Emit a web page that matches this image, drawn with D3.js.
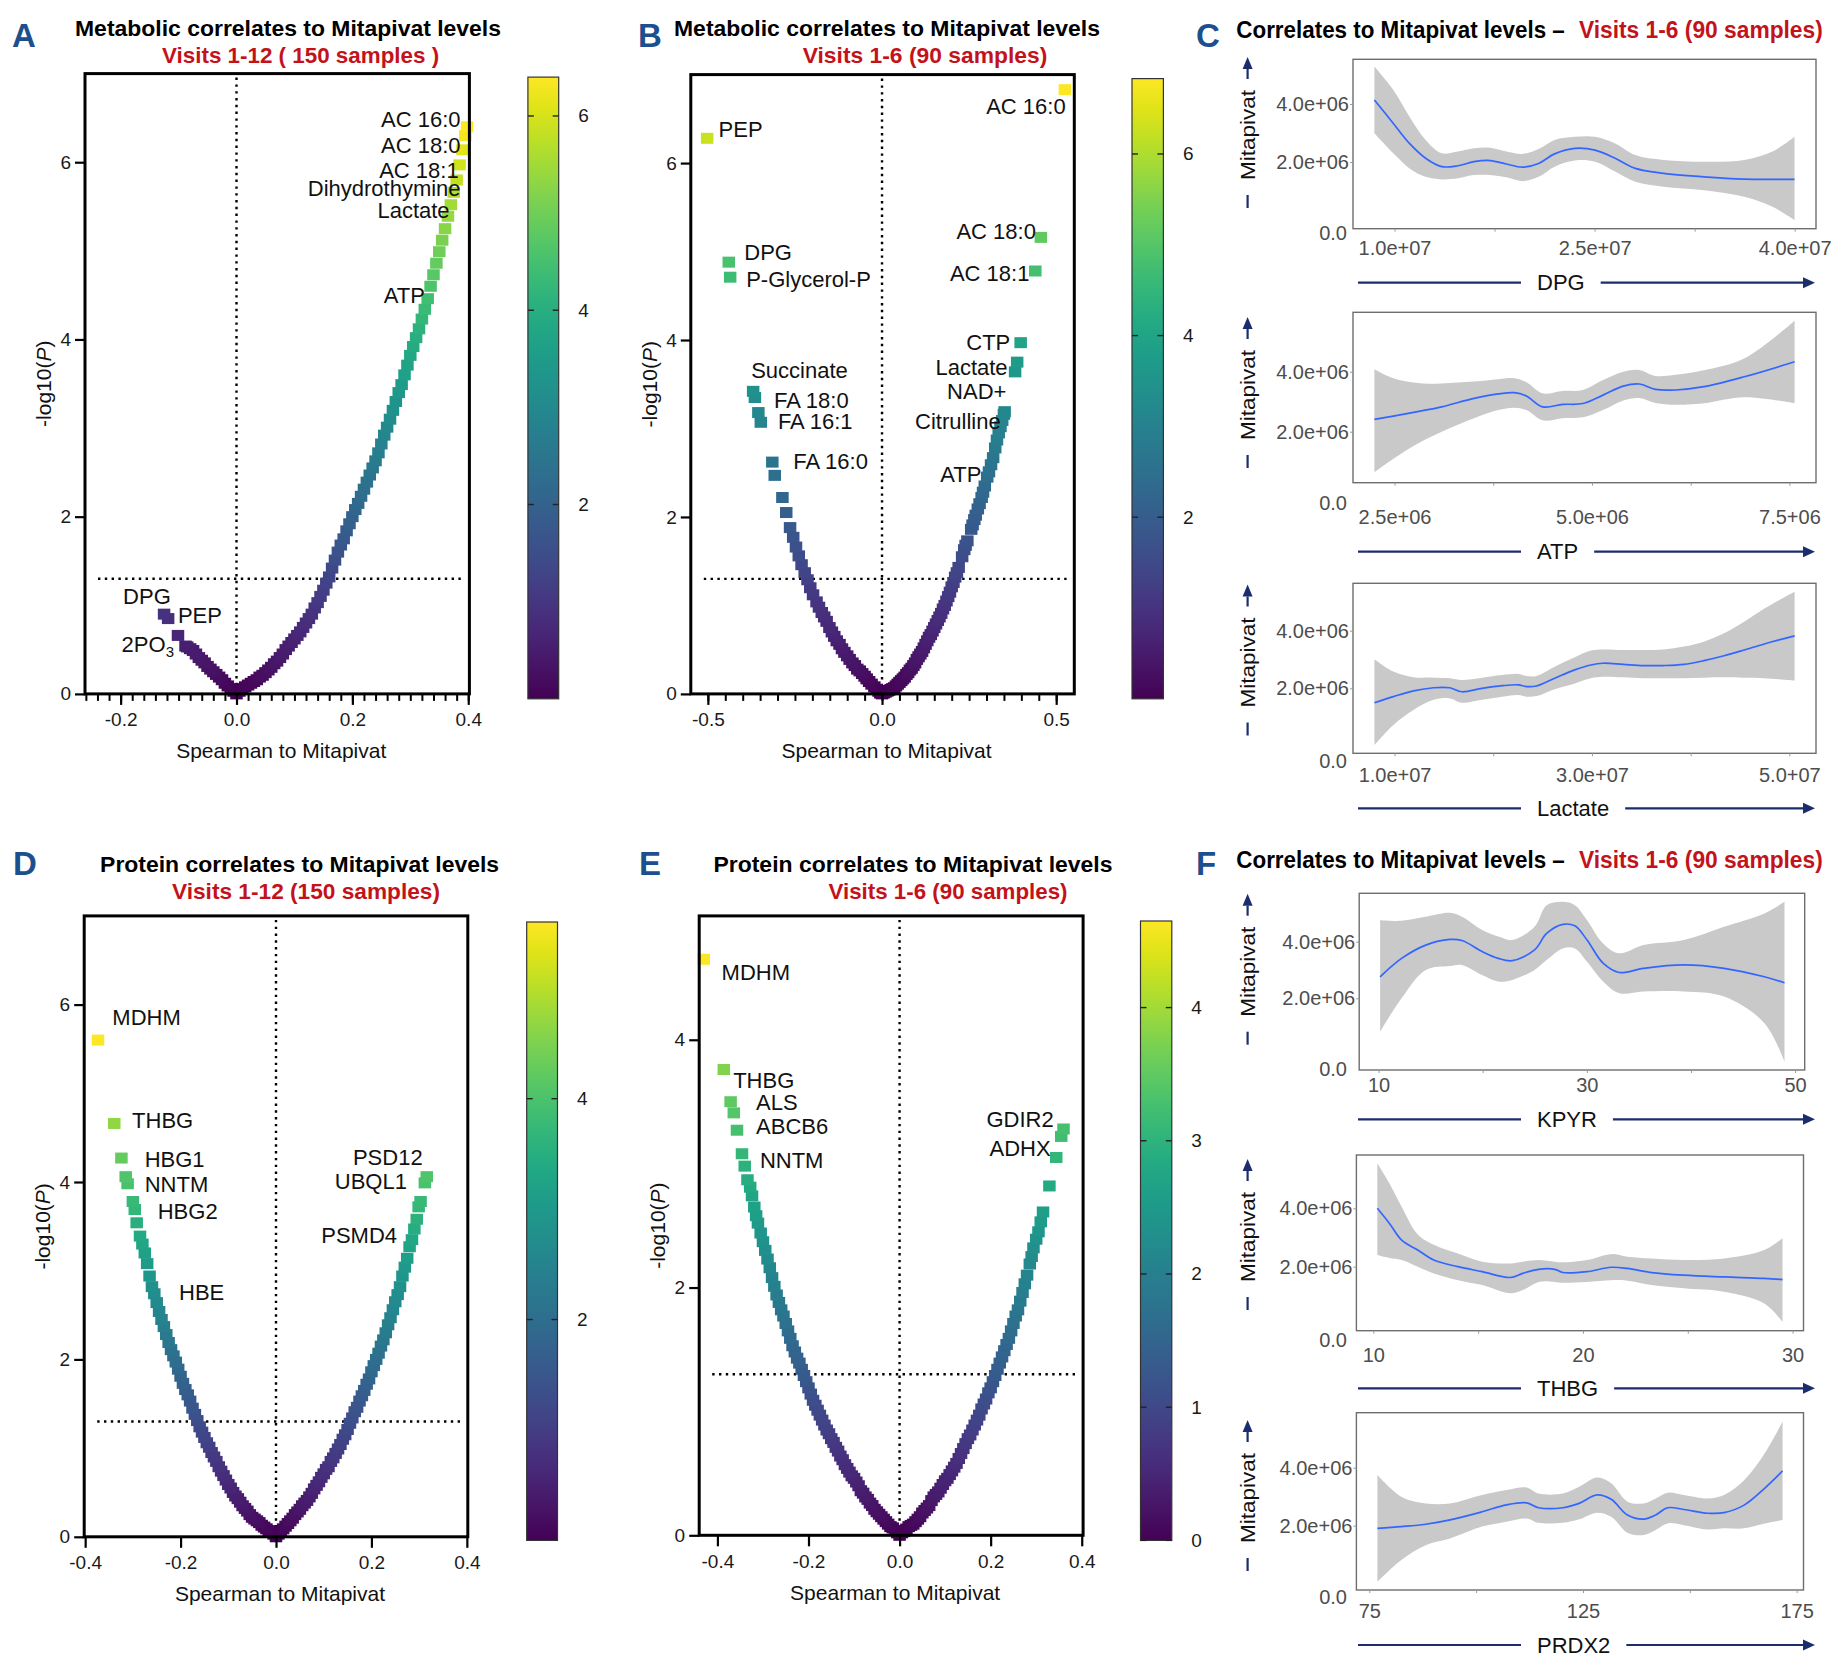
<!DOCTYPE html>
<html><head><meta charset="utf-8">
<script src="https://cdn.jsdelivr.net/npm/d3@7/dist/d3.min.js"></script>
<style>html,body{margin:0;padding:0;background:#fff;}svg{display:block;}</style>
</head><body>
<svg id="fig" width="1832" height="1656" xmlns="http://www.w3.org/2000/svg"></svg>
<script>
// ===================== DATA =====================
// Volcano points: [Spearman rho, -log10(P)]
const metabVisits12 = [[-0.125,0.90],[-0.118,0.85],[-0.101,0.66],[-0.088,0.54],[-0.085,0.53],[-0.080,0.51],[-0.075,0.49],[-0.070,0.45],[-0.065,0.41],[-0.060,0.38],[-0.055,0.35],[-0.050,0.31],[-0.045,0.28],[-0.040,0.25],[-0.035,0.22],[-0.030,0.19],[-0.025,0.16],[-0.020,0.12],[-0.015,0.09],[-0.010,0.06],[-0.005,0.03],
[0.000,0.00],[0.005,0.03],[0.010,0.06],[0.015,0.08],[0.020,0.10],[0.025,0.12],[0.030,0.14],[0.035,0.16],[0.040,0.19],[0.045,0.21],[0.050,0.24],[0.055,0.27],[0.060,0.30],[0.065,0.34],[0.070,0.37],[0.075,0.41],[0.080,0.45],[0.085,0.50],[0.090,0.54],[0.095,0.58],[0.100,0.62],[0.105,0.66],[0.110,0.70],[0.115,0.75],[0.120,0.80],[0.125,0.85],[0.130,0.90],[0.135,0.97],[0.140,1.03],[0.145,1.10],[0.150,1.17],[0.155,1.25],[0.160,1.32],[0.165,1.42],[0.170,1.51],[0.175,1.60],[0.180,1.68],[0.185,1.75],[0.190,1.84],[0.195,1.92],[0.200,2.00],[0.205,2.08],[0.210,2.15],[0.215,2.23],[0.220,2.31],[0.225,2.39],[0.230,2.47],[0.235,2.55],[0.240,2.63],[0.245,2.72],[0.250,2.82],[0.255,2.92],[0.260,3.01],[0.265,3.10],[0.270,3.20],[0.275,3.30],[0.280,3.40],[0.285,3.49],[0.290,3.60],[0.295,3.71],[0.300,3.82],[0.305,3.92],[0.310,4.02],[0.315,4.12],[0.320,4.23],[0.325,4.34],[0.330,4.46],[0.335,4.60],[0.340,4.73],[0.345,4.86],[0.350,4.99],[0.355,5.12],[0.360,5.25],[0.365,5.39],[0.370,5.52],[0.375,5.66],[0.380,5.80],[0.385,5.97],[0.390,6.14],[0.395,6.30],[0.398,6.40]];

const metabVisits6 = [[-0.370,3.42],[-0.365,3.35],[-0.355,3.18],[-0.348,3.07],[-0.315,2.62],[-0.308,2.47],[-0.286,2.22],[-0.275,2.05],[-0.264,1.88],[-0.255,1.77],[-0.247,1.66],[-0.239,1.56],[-0.231,1.46],[-0.222,1.37],[-0.214,1.29],[-0.206,1.20],[-0.198,1.12],[-0.188,1.04],[-0.181,0.98],[-0.173,0.92],[-0.166,0.87],[-0.159,0.82],[-0.151,0.75],[-0.144,0.70],[-0.137,0.65],[-0.130,0.60],[-0.122,0.56],[-0.115,0.51],[-0.108,0.47],[-0.100,0.43],[-0.093,0.39],[-0.085,0.35],[-0.078,0.32],[-0.071,0.28],[-0.064,0.26],[-0.057,0.23],[-0.050,0.20],[-0.044,0.17],[-0.037,0.14],[-0.030,0.11],[-0.022,0.08],[-0.015,0.05],[-0.010,0.03],[-0.005,0.01],
[-0.502,6.28],[-0.440,4.88],[-0.436,4.71],
[0.000,0.00],[0.005,0.01],[0.010,0.02],[0.015,0.03],[0.020,0.04],[0.025,0.05],[0.030,0.06],[0.035,0.07],[0.040,0.09],[0.045,0.11],[0.050,0.13],[0.055,0.15],[0.060,0.17],[0.065,0.19],[0.070,0.22],[0.075,0.24],[0.080,0.27],[0.085,0.29],[0.090,0.32],[0.095,0.35],[0.100,0.39],[0.105,0.42],[0.110,0.45],[0.115,0.48],[0.120,0.52],[0.125,0.56],[0.130,0.60],[0.135,0.64],[0.140,0.67],[0.145,0.71],[0.150,0.75],[0.155,0.79],[0.160,0.83],[0.165,0.87],[0.170,0.91],[0.175,0.96],[0.180,1.00],[0.185,1.05],[0.190,1.10],[0.195,1.15],[0.200,1.21],[0.205,1.26],[0.210,1.32],[0.215,1.37],[0.220,1.43],[0.230,1.55],[0.236,1.63],[0.240,1.68],[0.245,1.73],[0.256,1.86],[0.260,1.91],[0.265,1.97],[0.269,2.02],[0.275,2.09],[0.280,2.15],[0.286,2.22],[0.290,2.28],[0.295,2.35],[0.302,2.45],[0.307,2.51],[0.313,2.59],[0.319,2.67],[0.325,2.78],[0.330,2.87],[0.335,2.95],[0.340,3.02],[0.345,3.09],[0.350,3.16],[0.352,3.19],[0.382,3.64],[0.388,3.75],[0.398,3.97],[0.440,4.78],[0.456,5.16],[0.525,6.83]];

const protVisits12 = [[-0.373,5.60],[-0.339,4.66],[-0.324,4.27],[-0.315,4.06],[-0.311,3.98],[-0.300,3.78],[-0.296,3.69],[-0.292,3.54],[-0.285,3.39],[-0.280,3.30],[-0.275,3.20],[-0.270,3.08],[-0.265,2.94],[-0.260,2.82],[-0.255,2.74],[-0.250,2.64],[-0.245,2.54],[-0.240,2.45],[-0.235,2.37],[-0.230,2.28],[-0.225,2.19],[-0.220,2.11],[-0.215,2.04],[-0.210,1.97],[-0.205,1.89],[-0.200,1.81],[-0.195,1.73],[-0.190,1.66],[-0.185,1.60],[-0.180,1.53],[-0.175,1.45],[-0.170,1.38],[-0.165,1.31],[-0.160,1.24],[-0.155,1.18],[-0.150,1.12],[-0.145,1.06],[-0.140,1.01],[-0.135,0.95],[-0.130,0.90],[-0.125,0.85],[-0.120,0.79],[-0.115,0.74],[-0.110,0.69],[-0.105,0.64],[-0.100,0.59],[-0.095,0.55],[-0.090,0.50],[-0.085,0.46],[-0.080,0.43],[-0.075,0.39],[-0.070,0.35],[-0.065,0.32],[-0.060,0.29],[-0.055,0.25],[-0.050,0.22],[-0.045,0.20],[-0.040,0.18],[-0.035,0.16],[-0.030,0.13],[-0.025,0.11],[-0.020,0.09],[-0.015,0.07],[-0.010,0.05],[-0.005,0.03],
[0.000,0.00],[0.005,0.03],[0.010,0.06],[0.015,0.09],[0.020,0.12],[0.025,0.15],[0.030,0.18],[0.035,0.21],[0.040,0.25],[0.045,0.28],[0.050,0.31],[0.055,0.35],[0.060,0.38],[0.065,0.41],[0.070,0.45],[0.075,0.49],[0.080,0.54],[0.085,0.58],[0.090,0.62],[0.095,0.67],[0.100,0.71],[0.105,0.76],[0.110,0.79],[0.115,0.85],[0.120,0.89],[0.125,0.94],[0.130,0.99],[0.135,1.04],[0.140,1.10],[0.145,1.15],[0.150,1.21],[0.155,1.28],[0.160,1.34],[0.165,1.41],[0.170,1.46],[0.175,1.53],[0.180,1.59],[0.185,1.65],[0.190,1.72],[0.195,1.78],[0.200,1.86],[0.205,1.93],[0.210,2.00],[0.215,2.07],[0.220,2.15],[0.225,2.22],[0.230,2.30],[0.235,2.39],[0.240,2.47],[0.245,2.56],[0.250,2.65],[0.255,2.73],[0.260,2.82],[0.265,2.94],[0.270,3.04],[0.275,3.14],[0.280,3.27],[0.285,3.35],[0.290,3.47],[0.295,3.58],[0.299,3.72],[0.303,3.78],[0.312,3.99],[0.316,4.06]];

const protVisits6 = [[-0.430,4.65],[-0.386,3.76],[-0.371,3.50],[-0.364,3.41],[-0.357,3.27],[-0.346,3.08],[-0.340,2.98],[-0.334,2.87],[-0.328,2.81],[-0.324,2.74],[-0.319,2.65],[-0.315,2.58],[-0.311,2.52],[-0.305,2.44],[-0.300,2.37],[-0.295,2.30],[-0.290,2.23],[-0.285,2.16],[-0.280,2.08],[-0.275,2.01],[-0.270,1.94],[-0.265,1.88],[-0.260,1.82],[-0.255,1.77],[-0.250,1.71],[-0.245,1.65],[-0.240,1.59],[-0.235,1.53],[-0.230,1.48],[-0.225,1.43],[-0.220,1.39],[-0.215,1.34],[-0.210,1.29],[-0.205,1.24],[-0.200,1.19],[-0.195,1.14],[-0.190,1.09],[-0.185,1.05],[-0.180,1.01],[-0.175,0.97],[-0.170,0.93],[-0.165,0.89],[-0.160,0.85],[-0.155,0.82],[-0.150,0.78],[-0.145,0.75],[-0.140,0.71],[-0.135,0.68],[-0.130,0.64],[-0.125,0.61],[-0.120,0.57],[-0.115,0.54],[-0.110,0.51],[-0.105,0.48],[-0.100,0.46],[-0.095,0.43],[-0.090,0.40],[-0.085,0.36],[-0.080,0.34],[-0.075,0.31],[-0.070,0.29],[-0.065,0.26],[-0.060,0.24],[-0.055,0.21],[-0.050,0.19],[-0.045,0.17],[-0.040,0.15],[-0.035,0.13],[-0.030,0.11],[-0.025,0.09],[-0.020,0.07],[-0.015,0.06],[-0.010,0.04],[-0.005,0.02],
[0.000,0.00],[0.005,0.02],[0.010,0.03],[0.015,0.05],[0.020,0.07],[0.025,0.08],[0.030,0.09],[0.035,0.11],[0.040,0.13],[0.045,0.15],[0.050,0.18],[0.055,0.20],[0.060,0.22],[0.065,0.24],[0.070,0.28],[0.075,0.31],[0.080,0.33],[0.085,0.35],[0.090,0.38],[0.095,0.41],[0.100,0.44],[0.105,0.46],[0.110,0.49],[0.115,0.52],[0.120,0.55],[0.125,0.58],[0.130,0.62],[0.135,0.66],[0.140,0.70],[0.145,0.74],[0.150,0.78],[0.155,0.81],[0.160,0.85],[0.165,0.89],[0.170,0.93],[0.175,0.97],[0.180,1.02],[0.185,1.06],[0.190,1.10],[0.195,1.15],[0.200,1.19],[0.205,1.24],[0.210,1.29],[0.215,1.34],[0.220,1.39],[0.225,1.44],[0.230,1.49],[0.235,1.54],[0.240,1.59],[0.245,1.65],[0.250,1.71],[0.255,1.77],[0.260,1.82],[0.265,1.89],[0.270,1.96],[0.275,2.03],[0.280,2.10],[0.286,2.19],[0.290,2.25],[0.294,2.32],[0.300,2.39],[0.305,2.45],[0.310,2.53],[0.315,2.61],[0.329,2.82],[0.344,3.05],[0.355,3.22],[0.360,3.28]];

// Volcano annotations (text anchor position in data units)
const aLabelText = ["AC 16:0","AC 18:0","AC 18:1","Dihydrothymine","Lactate","ATP","DPG","PEP","2PO3"];
const aLabelRho  = [0.3868,0.3868,0.3835,0.3868,0.3678,0.3253,-0.1134,-0.1011,-0.1079];
const aLabelLogP = [6.484,6.193,5.906,5.699,5.457,4.491,1.095,0.881,0.562];
const aLabelAnchor = ["end","end","end","end","end","end","end","start","end"];

const bLabelText = ["AC 16:0","PEP","AC 18:0","AC 18:1","DPG","P-Glycerol-P","CTP","Lactate","NAD+","Citrulline","ATP","Succinate","FA 18:0","FA 16:1","FA 16:0"];
const bLabelRho  = [0.5273,-0.4693,0.4417,0.4231,-0.3955,-0.39,0.3682,0.3605,0.357,0.3407,0.2855,-0.3757,-0.31,-0.299,-0.2548];
const bLabelLogP = [6.634,6.382,5.229,4.751,4.988,4.685,3.976,3.694,3.413,3.076,2.475,3.656,3.318,3.076,2.626];
const bLabelAnchor = ["end","start","end","end","start","start","end","end","end","end","end","start","start","start","start"];

const dLabelText = ["MDHM","THBG","HBG1","NNTM","HBG2","HBE","PSD12","UBQL1","PSMD4"];
const dLabelRho  = [-0.343,-0.3016,-0.2752,-0.2752,-0.2479,-0.2033,0.3074,0.2744,0.2537];
const dLabelLogP = [5.851,4.698,4.249,3.977,3.672,2.749,4.277,4.007,3.401];
const dLabelAnchor = ["start","start","start","start","start","start","end","end","end"];

const eLabelText = ["MDHM","THBG","ALS","ABCB6","NNTM","GDIR2","ADHX"];
const eLabelRho  = [-0.3908,-0.3655,-0.315,-0.315,-0.3067,0.3385,0.3317];
const eLabelLogP = [4.546,3.671,3.493,3.30,3.027,3.357,3.122];
const eLabelAnchor = ["start","start","start","start","start","end","end"];

// Smooth fits (loess + CI).  x in axis units shown below, y in units of 1e6 (Mitapivat)
const dpgX   = [0.849,0.991,1.112,1.233,1.354,1.475,1.596,1.717,1.838,1.959,2.080,2.200,2.352,2.503,2.654,2.805,3.017,3.319,3.622,3.833,3.999]; // x1e7
const dpgFit = [4.14,3.33,2.64,2.13,1.84,1.87,2.01,2.05,1.93,1.82,1.95,2.28,2.47,2.41,2.13,1.78,1.61,1.49,1.41,1.40,1.40];
const dpgHi  = [5.29,4.48,3.56,2.76,2.30,2.36,2.47,2.49,2.36,2.28,2.45,2.76,2.87,2.87,2.64,2.24,2.07,2.01,2.07,2.36,2.87];
const dpgLo  = [2.99,2.30,1.78,1.49,1.40,1.44,1.55,1.55,1.47,1.34,1.49,1.84,2.05,2.01,1.67,1.32,1.15,1.03,0.80,0.46,0.00];

const atpX   = [2.245,2.485,2.791,3.098,3.506,3.813,4.017,4.170,4.374,4.630,4.885,5.140,5.396,5.600,5.804,6.060,6.417,6.928,7.566]; // x1e6
const atpFit = [2.41,2.52,2.67,2.83,3.11,3.26,3.30,3.19,2.83,2.91,2.94,3.22,3.52,3.59,3.41,3.39,3.50,3.83,4.33];
const atpHi  = [4.08,3.78,3.62,3.61,3.67,3.75,3.78,3.65,3.28,3.36,3.39,3.72,4.00,4.06,3.86,3.90,4.05,4.44,5.70];
const atpLo  = [0.65,1.10,1.60,2.00,2.45,2.72,2.80,2.72,2.38,2.45,2.48,2.72,3.04,3.12,2.96,2.90,2.95,3.15,2.95];

const lactX   = [0.796,0.988,1.192,1.396,1.560,1.682,1.887,2.091,2.254,2.336,2.438,2.622,2.826,2.990,3.112,3.317,3.521,3.725,3.930,4.134,4.338,4.542,4.747,5.053]; // x1e7
const lactFit = [1.50,1.71,1.91,2.02,2.02,1.88,2.00,2.09,2.12,2.06,2.08,2.35,2.64,2.81,2.87,2.83,2.79,2.79,2.83,2.96,3.13,3.33,3.54,3.82];
const lactHi  = [3.01,2.58,2.38,2.37,2.35,2.29,2.37,2.46,2.50,2.43,2.43,2.75,3.08,3.31,3.35,3.33,3.33,3.35,3.45,3.62,3.91,4.31,4.77,5.35];
const lactLo  = [0.03,0.73,1.25,1.60,1.65,1.50,1.60,1.71,1.77,1.71,1.73,1.97,2.17,2.35,2.40,2.38,2.35,2.35,2.35,2.37,2.38,2.37,2.35,2.27];

const kpyrX   = [10.15,12.21,14.53,16.85,18.01,19.95,21.50,22.85,24.98,26.14,27.69,28.85,30.02,31.56,33.11,35.44,39.31,43.18,47.05,48.98];
const kpyrFit = [2.76,3.41,3.88,4.08,4.04,3.65,3.41,3.33,3.71,4.29,4.61,4.56,4.06,3.24,2.91,3.06,3.18,3.06,2.76,2.55];
const kpyrHi  = [4.76,4.74,4.88,5.02,4.88,4.41,4.18,4.06,4.53,5.29,5.41,5.29,4.76,3.94,3.59,3.88,4.06,4.53,5.00,5.41];
const kpyrLo  = [0.82,2.00,3.00,3.14,3.18,2.82,2.59,2.65,3.00,3.35,3.76,3.76,3.29,2.59,2.18,2.24,2.24,2.06,1.12,-0.24];

const thbgX   = [10.19,10.77,11.35,12.12,12.88,14.04,15.19,16.54,17.12,17.88,18.65,19.04,20.19,21.35,22.12,23.27,24.81,26.73,28.65,29.52];
const thbgFit = [4.00,3.48,2.91,2.57,2.23,2.00,1.83,1.63,1.77,1.91,1.91,1.80,1.83,1.98,1.94,1.80,1.71,1.65,1.60,1.56];
const thbgHi  = [5.54,4.85,4.05,3.10,2.75,2.45,2.17,2.11,2.17,2.23,2.17,2.15,2.23,2.43,2.34,2.28,2.23,2.28,2.57,2.97];
const thbgLo  = [2.40,2.30,2.23,2.00,1.77,1.54,1.37,1.09,1.20,1.48,1.48,1.45,1.48,1.54,1.52,1.37,1.26,1.14,0.74,0.11];

const prdxX   = [76.9,82.5,88.2,93.9,101.4,107.1,111.8,114.6,120.3,124.1,128.3,131.6,135.4,139.2,142.0,144.8,148.6,154.2,158.0,162.7,167.5,171.7];
const prdxFit = [1.91,1.97,2.05,2.20,2.48,2.72,2.79,2.62,2.62,2.77,3.06,2.91,2.37,2.23,2.37,2.62,2.56,2.43,2.45,2.71,3.29,3.89];
const prdxHi  = [3.75,3.00,2.77,2.77,3.06,3.23,3.32,3.11,3.11,3.34,3.66,3.46,2.83,2.77,2.94,3.14,3.06,2.94,3.06,3.57,4.49,5.59];
const prdxLo  = [0.07,0.82,1.33,1.56,1.97,2.14,2.25,2.10,2.10,2.22,2.45,2.31,1.76,1.68,1.85,2.08,2.02,1.87,1.91,1.91,2.08,2.20];

// Tick labels
const yTickValsSmooth = [2, 4];
const yTickLabelsSmooth = ["2.0e+06", "4.0e+06"];
const dpgTicks = [1.0, 2.5, 4.0],  dpgTickLabels = ["1.0e+07","2.5e+07","4.0e+07"];
const atpTicks = [2.5, 5.0, 7.5],  atpTickLabels = ["2.5e+06","5.0e+06","7.5+06"];
const lactTicks = [1, 3, 5],       lactTickLabels = ["1.0e+07","3.0e+07","5.0+07"];
const kpyrTicks = [10, 30, 50],    kpyrTickLabels = ["10","30","50"];
const thbgTicks = [10, 20, 30],    thbgTickLabels = ["10","20","30"];
const prdxTicks = [75, 125, 175],  prdxTickLabels = ["75","125","175"];

// ===================== DRAWING =====================
const svg = d3.select("#fig");
svg.append("rect").attr("width",1832).attr("height",1656).attr("fill","#fff");
const FONT = "'Liberation Sans', Arial, Helvetica, sans-serif";
const NARROW = "'Liberation Sans Narrow', 'Arial Narrow', 'Liberation Sans', Arial, sans-serif";
const RED = "#c4121a", NAVY = "#1c2d6e", LETTER = "#1d4f8f";
const PT_W = 12.5, PT_H = 11;

const defs = svg.append("defs");
const grad = defs.append("linearGradient").attr("id","viridisGrad")
  .attr("x1",0).attr("y1",1).attr("x2",0).attr("y2",0);
d3.range(0, 1.0001, 0.05).forEach(t => grad.append("stop").attr("offset", t).attr("stop-color", d3.interpolateViridis(Math.min(t,1))));

function letter(t, x, y) {
  svg.append("text").attr("x",x).attr("y",y).text(t)
    .attr("font-family",FONT).attr("font-weight","bold").attr("font-size",33).attr("fill",LETTER);
}

function volcano(c) {
  const g = svg.append("g").attr("font-family", FONT);
  const f = c.frame;
  const x = d3.scaleLinear().domain(c.xDomain).range([f.l, f.r]);
  const y = d3.scaleLinear().domain(c.yDomain).range([f.b, f.t]);
  const vmax = d3.max(c.points, d => d[1]);
  const col = d3.scaleSequential(d3.interpolateViridis).domain([0, vmax]);

  g.append("text").attr("x",c.titleX).attr("y",c.titleY).attr("text-anchor","middle")
    .attr("font-weight","bold").attr("font-size",22).attr("fill","#000")
    .attr("textLength",c.titleLen).attr("lengthAdjust","spacingAndGlyphs").text(c.title);
  g.append("text").attr("x",c.subX).attr("y",c.titleY+27.3).attr("text-anchor","middle")
    .attr("font-weight","bold").attr("font-size",22).attr("fill",RED)
    .attr("textLength",c.subLen).attr("lengthAdjust","spacingAndGlyphs").text(c.sub);

  // reference dotted lines
  g.append("line").attr("x1",x(0)).attr("x2",x(0)).attr("y1",f.t+4).attr("y2",f.b-10)
    .attr("stroke","#000").attr("stroke-width",2.4).attr("stroke-dasharray","2.4,4.4");
  g.append("line").attr("x1",f.l+13).attr("x2",f.r-6).attr("y1",y(1.3)).attr("y2",y(1.3))
    .attr("stroke","#000").attr("stroke-width",2.4).attr("stroke-dasharray","2.4,4.4");

  // points
  g.append("g").selectAll("rect").data(c.points.slice().sort((a,b)=>a[1]-b[1])).join("rect")
    .attr("x", d => x(d[0]) - PT_W/2).attr("y", d => y(d[1]) - PT_H/2)
    .attr("width", PT_W).attr("height", PT_H).attr("fill", d => col(d[1]));

  // labels
  c.labels.text.forEach((t, i) => {
    const el = g.append("text").attr("x", x(c.labels.rho[i])).attr("y", y(c.labels.logp[i]))
      .attr("dominant-baseline","central").attr("text-anchor", c.labels.anchor[i])
      .attr("font-size",22).attr("fill","#111");
    if (t === "2PO3") {
      el.append("tspan").text("2PO");
      el.append("tspan").attr("font-size",15).attr("dy",7).text("3");
    } else el.text(t);
  });

  // frame
  g.append("rect").attr("x",f.l).attr("y",f.t).attr("width",f.r-f.l).attr("height",f.b-f.t)
    .attr("fill","none").attr("stroke","#000").attr("stroke-width",3);

  // axes
  if (c.xMinor) {
    const mg = g.append("g").attr("transform",`translate(0,${f.b})`)
      .call(d3.axisBottom(x).tickValues(c.xMinor).tickSize(7).tickFormat(""));
    mg.select(".domain").remove();
    mg.selectAll("line").attr("stroke","#000").attr("stroke-width",2);
  }
  const xa = g.append("g").attr("transform",`translate(0,${f.b})`)
    .call(d3.axisBottom(x).tickValues(c.xTicks).tickSize(11).tickPadding(8).tickSizeOuter(0)
      .tickFormat(d => d.toFixed(1)));
  xa.select(".domain").remove();
  xa.selectAll("line").attr("stroke","#000").attr("stroke-width",2.2);
  xa.selectAll("text").attr("font-size",19).attr("fill","#1a1a1a").attr("font-family",FONT);

  const ya = g.append("g").attr("transform",`translate(${f.l},0)`)
    .call(d3.axisLeft(y).tickValues(c.yTicks).tickSize(10).tickPadding(4).tickSizeOuter(0)
      .tickFormat(d3.format("d")));
  ya.select(".domain").remove();
  ya.selectAll("line").attr("stroke","#000").attr("stroke-width",2.2);
  ya.selectAll("text").attr("font-size",19).attr("fill","#1a1a1a").attr("font-family",FONT);

  g.append("text").attr("x",(f.l+f.r)/2+4).attr("y",f.b+57).attr("dominant-baseline","central")
    .attr("text-anchor","middle").attr("font-size",21).attr("fill","#111").text("Spearman to Mitapivat");
  const yt = g.append("text").attr("transform",`translate(${f.l-42},${(f.t+f.b)/2}) rotate(-90)`)
    .attr("text-anchor","middle").attr("dominant-baseline","central").attr("font-size",21).attr("fill","#111");
  yt.append("tspan").text("-log10(");
  yt.append("tspan").attr("font-style","italic").text("P");
  yt.append("tspan").text(")");

  // colorbar
  const cb = c.cb;
  g.append("rect").attr("x",cb.l).attr("y",cb.t).attr("width",cb.r-cb.l).attr("height",cb.b-cb.t)
    .attr("fill","url(#viridisGrad)").attr("stroke","#333").attr("stroke-width",1.2);
  const cy = d3.scaleLinear().domain([0, vmax]).range([cb.b, cb.t]);
  c.cbTicks.forEach(v => {
    g.append("line").attr("x1",cb.l).attr("x2",cb.l+6).attr("y1",cy(v)).attr("y2",cy(v)).attr("stroke","#222").attr("stroke-width",1.4);
    g.append("line").attr("x1",cb.r-6).attr("x2",cb.r).attr("y1",cy(v)).attr("y2",cy(v)).attr("stroke","#222").attr("stroke-width",1.4);
    g.append("text").attr("x",cb.r+19.5).attr("y",cy(v)).attr("dominant-baseline","central")
      .attr("font-size",19).attr("fill","#1a1a1a").text(v);
  });
}

function smoothPanel(c) {
  const g = svg.append("g").attr("font-family", FONT);
  const f = c.frame;
  const x = d3.scaleLinear().domain(c.xDomain).range([f.l, f.r]);
  const y = d3.scaleLinear().domain(c.yDomain).range([f.b, f.t]);
  const rows = c.x.map((v, i) => ({x: v, fit: c.fit[i], lo: c.lo[i], hi: c.hi[i]}));
  const cur = d3.curveCatmullRom.alpha(0.5);
  g.append("path").datum(rows)
    .attr("d", d3.area().curve(cur).x(d => x(d.x)).y0(d => y(d.lo)).y1(d => y(d.hi)))
    .attr("fill","#c9c9c9");
  g.append("path").datum(rows)
    .attr("d", d3.line().curve(cur).x(d => x(d.x)).y(d => y(d.fit)))
    .attr("fill","none").attr("stroke","#3366ff").attr("stroke-width",1.7);
  g.append("rect").attr("x",f.l).attr("y",f.t).attr("width",f.r-f.l).attr("height",f.b-f.t)
    .attr("fill","none").attr("stroke","#6e6e6e").attr("stroke-width",1.4);

  // y axis
  const ya = g.append("g").attr("transform",`translate(${f.l},0)`)
    .call(d3.axisLeft(y).tickValues(yTickValsSmooth).tickSize(3).tickPadding(1).tickSizeOuter(0)
      .tickFormat((d,i) => yTickLabelsSmooth[i]));
  ya.select(".domain").remove();
  ya.selectAll("line").attr("stroke","#9a9a9a");
  ya.selectAll("text").attr("font-size",20).attr("fill","#4d4d4d").attr("font-family",FONT);
  g.append("text").attr("x",1347).attr("y",c.zeroY).attr("text-anchor","end").attr("dominant-baseline","central")
    .attr("font-size",20).attr("fill","#4d4d4d").text("0.0");

  // x axis
  const mids = d3.pairs(c.ticks).map(p => (p[0]+p[1])/2);
  const mg = g.append("g").attr("transform",`translate(0,${f.b})`)
    .call(d3.axisBottom(x).tickValues(mids).tickSize(3).tickFormat(""));
  mg.select(".domain").remove();
  mg.selectAll("line").attr("stroke","#9a9a9a");
  const xa = g.append("g").attr("transform",`translate(0,${f.b})`)
    .call(d3.axisBottom(x).tickValues(c.ticks).tickSize(3).tickSizeOuter(0)
      .tickFormat((d,i) => c.tickLabels[i]));
  xa.select(".domain").remove();
  xa.selectAll("line").attr("stroke","#9a9a9a");
  xa.selectAll("text").attr("y", c.xLabelY - f.b).attr("dy","0.35em")
    .attr("font-size",20).attr("fill","#4d4d4d").attr("font-family",FONT);

  // x axis name with arrow
  const ay = c.arrowY;
  const tx = g.append("text").attr("x",1537).attr("y",ay).attr("dominant-baseline","central")
    .attr("font-size",22).attr("fill","#111").text(c.name);
  const tw = tx.node().getComputedTextLength();
  g.append("line").attr("x1",1358).attr("x2",1521).attr("y1",ay).attr("y2",ay).attr("stroke",NAVY).attr("stroke-width",2.2);
  g.append("line").attr("x1",1537+tw+16).attr("x2",1806).attr("y1",ay).attr("y2",ay).attr("stroke",NAVY).attr("stroke-width",2.2);
  g.append("path").attr("d",`M1815,${ay} L1803,${ay-5.5} L1803,${ay+5.5} Z`).attr("fill",NAVY);

  // y axis name with arrow
  const mx = 1247.6, my = c.mitY;
  g.append("text").attr("transform",`translate(${mx},${my}) rotate(-90)`).attr("text-anchor","middle")
    .attr("dominant-baseline","central").attr("font-size",21).attr("fill","#111")
    .attr("textLength",90).attr("lengthAdjust","spacingAndGlyphs").text("Mitapivat");
  g.append("line").attr("x1",mx).attr("x2",mx).attr("y1",my-56).attr("y2",my-66).attr("stroke",NAVY).attr("stroke-width",2.2);
  g.append("path").attr("d",`M${mx},${my-78} L${mx-5},${my-66} L${mx+5},${my-66} Z`).attr("fill",NAVY);
  g.append("line").attr("x1",mx).attr("x2",mx).attr("y1",my+60).attr("y2",my+73).attr("stroke",NAVY).attr("stroke-width",2.2);
}

function rightTitle(yBase) {
  svg.append("text").attr("x",1236.3).attr("y",yBase).attr("font-family",NARROW).attr("font-weight","bold")
    .attr("font-size",23).attr("fill","#000").attr("textLength",328.5).attr("lengthAdjust","spacingAndGlyphs")
    .text("Correlates to Mitapivat levels \u2013");
  svg.append("text").attr("x",1578.9).attr("y",yBase).attr("font-family",NARROW).attr("font-weight","bold")
    .attr("font-size",23).attr("fill",RED).attr("textLength",243.9).attr("lengthAdjust","spacingAndGlyphs")
    .text("Visits 1-6 (90 samples)");
}

// Panel letters
letter("A", 12, 47); letter("B", 638, 47); letter("C", 1196, 47);
letter("D", 13, 875); letter("E", 639, 875); letter("F", 1196, 875);

// A
volcano({
  frame:{l:85,r:469.4,t:73.6,b:693.9}, xDomain:[-0.2615,0.402], yDomain:[0,7],
  xTicks:[-0.2,0,0.2,0.4], xMinor:d3.range(-0.26,0.4001,0.02), yTicks:[0,2,4,6],
  points:metabVisits12,
  labels:{text:aLabelText, rho:aLabelRho, logp:aLabelLogP, anchor:aLabelAnchor},
  title:"Metabolic correlates to Mitapivat levels", titleX:288, titleY:35.5, titleLen:426,
  sub:"Visits 1-12 ( 150 samples )", subX:300.6, subLen:277,
  cb:{l:527.9,r:558.7,t:77.1,b:698.8}, cbTicks:[2,4,6]
});
// B
volcano({
  frame:{l:690.8,r:1074.3,t:74.6,b:693.9}, xDomain:[-0.549,0.552], yDomain:[0,7],
  xTicks:[-0.5,0,0.5], xMinor:d3.range(-0.5,0.5001,0.05), yTicks:[0,2,4,6],
  points:metabVisits6,
  labels:{text:bLabelText, rho:bLabelRho, logp:bLabelLogP, anchor:bLabelAnchor},
  title:"Metabolic correlates to Mitapivat levels", titleX:887, titleY:35.5, titleLen:426,
  sub:"Visits 1-6 (90 samples)", subX:925, subLen:244.6,
  cb:{l:1132,r:1163.4,t:78.6,b:698.8}, cbTicks:[2,4,6]
});
// D
volcano({
  frame:{l:84.2,r:467.8,t:915.9,b:1536.8}, xDomain:[-0.402,0.402], yDomain:[0,7],
  xTicks:[-0.4,-0.2,0,0.2,0.4], xMinor:null, yTicks:[0,2,4,6],
  points:protVisits12,
  labels:{text:dLabelText, rho:dLabelRho, logp:dLabelLogP, anchor:dLabelAnchor},
  title:"Protein correlates to Mitapivat levels", titleX:299.6, titleY:871.5, titleLen:399,
  sub:"Visits 1-12 (150 samples)", subX:306, subLen:268,
  cb:{l:526.7,r:557.5,t:922,b:1540.4}, cbTicks:[2,4]
});
// E
volcano({
  frame:{l:699.2,r:1083.1,t:915.9,b:1535.3}, xDomain:[-0.44,0.403], yDomain:[0,5],
  xTicks:[-0.4,-0.2,0,0.2,0.4], xMinor:null, yTicks:[0,2,4],
  points:protVisits6,
  labels:{text:eLabelText, rho:eLabelRho, logp:eLabelLogP, anchor:eLabelAnchor},
  title:"Protein correlates to Mitapivat levels", titleX:913, titleY:871.5, titleLen:399,
  sub:"Visits 1-6 (90 samples)", subX:948, subLen:239,
  cb:{l:1140.5,r:1171.8,t:921,b:1540.4}, cbTicks:[0,1,2,3,4]
});

// C
rightTitle(38.3);
smoothPanel({frame:{l:1353,r:1816,t:59.3,b:228.7}, xDomain:[0.6885,4.160], yDomain:[-0.30,5.541],
  x:dpgX, fit:dpgFit, lo:dpgLo, hi:dpgHi, ticks:dpgTicks, tickLabels:dpgTickLabels,
  xLabelY:248.3, zeroY:233.3, arrowY:282.7, mitY:135, name:"DPG"});
smoothPanel({frame:{l:1353,r:1816,t:312.3,b:482.7}, xDomain:[1.974,7.837], yDomain:[0.30,5.98],
  x:atpX, fit:atpFit, lo:atpLo, hi:atpHi, ticks:atpTicks, tickLabels:atpTickLabels,
  xLabelY:517.3, zeroY:502.7, arrowY:551.7, mitY:395, name:"ATP"});
smoothPanel({frame:{l:1353,r:1816,t:583.3,b:753.3}, xDomain:[0.579,5.270], yDomain:[-0.257,5.646],
  x:lactX, fit:lactFit, lo:lactLo, hi:lactHi, ticks:lactTicks, tickLabels:lactTickLabels,
  xLabelY:775, zeroY:760.7, arrowY:808.3, mitY:662.5, name:"Lactate"});
// F
rightTitle(868.3);
smoothPanel({frame:{l:1359.2,r:1804.7,t:893.3,b:1070}, xDomain:[8.142,50.92], yDomain:[-0.534,5.71],
  x:kpyrX, fit:kpyrFit, lo:kpyrLo, hi:kpyrHi, ticks:kpyrTicks, tickLabels:kpyrTickLabels,
  xLabelY:1085, zeroY:1069.3, arrowY:1119.3, mitY:971.7, name:"KPYR"});
smoothPanel({frame:{l:1356.4,r:1803.5,t:1155,b:1330.7}, xDomain:[9.192,30.52], yDomain:[-0.192,5.825],
  x:thbgX, fit:thbgFit, lo:thbgLo, hi:thbgHi, ticks:thbgTicks, tickLabels:thbgTickLabels,
  xLabelY:1355, zeroY:1340, arrowY:1388.3, mitY:1237, name:"THBG"});
smoothPanel({frame:{l:1356.4,r:1803.5,t:1412.7,b:1590}, xDomain:[71.98,176.6], yDomain:[-0.217,5.897],
  x:prdxX, fit:prdxFit, lo:prdxLo, hi:prdxHi, ticks:prdxTicks, tickLabels:prdxTickLabels,
  xLabelY:1610.7, zeroY:1597.3, arrowY:1645, mitY:1498, name:"PRDX2"});
</script>
</body></html>
